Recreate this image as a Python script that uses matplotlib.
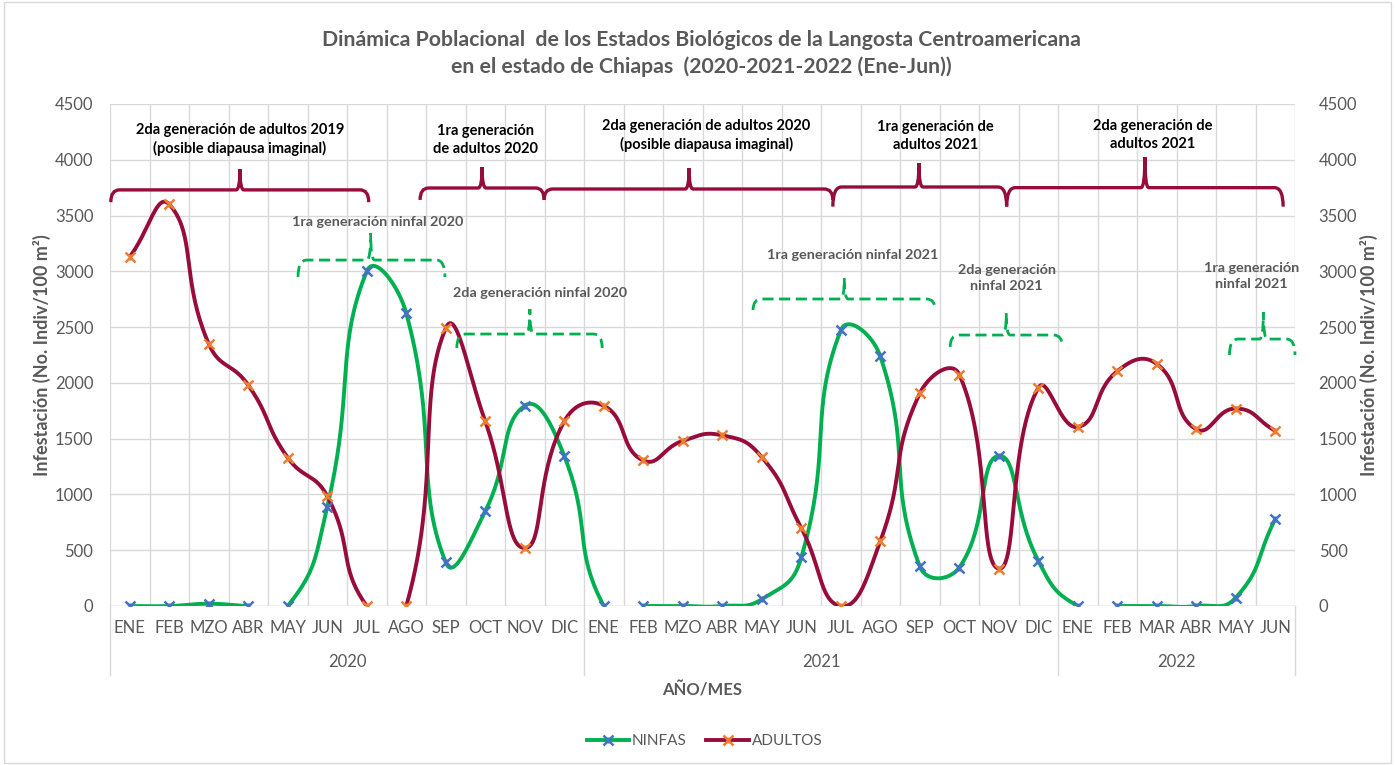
import matplotlib.pyplot as plt
import numpy as np
from matplotlib.path import Path
from matplotlib.patches import PathPatch, Rectangle
from matplotlib.lines import Line2D
import matplotlib.transforms as mtransforms

plt.rcParams['font.family'] = ['Lato', 'DejaVu Sans']

# ---- datos ----
meses = ['ENE', 'FEB', 'MZO', 'ABR', 'MAY', 'JUN', 'JUL', 'AGO', 'SEP', 'OCT', 'NOV', 'DIC',
         'ENE', 'FEB', 'MZO', 'ABR', 'MAY', 'JUN', 'JUL', 'AGO', 'SEP', 'OCT', 'NOV', 'DIC',
         'ENE', 'FEB', 'MAR', 'ABR', 'MAY', 'JUN']
anios = ['2020', '2021', '2022']
meses_por_anio = [12, 12, 6]

ninfas = [0, 0, 20, 0, 0, 890, 3000, 2625, 390, 850, 1795, 1345,
          0, 0, 0, 0, 60, 435, 2470, 2240, 355, 345, 1345, 405,
          0, 0, 0, 0, 75, 780]
adultos = [3130, 3600, 2350, 1980, 1330, 985, 0, 0, 2490, 1655, 520, 1655,
           1795, 1305, 1480, 1530, 1335, 700, 0, 580, 1905, 2075, 335, 1955,
           1605, 2105, 2170, 1585, 1770, 1570]
# tramos sin linea (indice del punto donde empieza el tramo)
ninfas_sin_linea = [3, 12, 24]
adultos_sin_linea = [6]

# llaves: texto, x izq, x pico, x der, y, y pico, y extremos, x texto, y texto
llaves_adultos = [
    ('2da generación de adultos 2019\n(posible diapausa imaginal)', -0.48, 2.79, 6.05, 3730, 3915, 3620, 2.79, 4180),
    ('1ra generación\nde adultos 2020', 7.35, 8.92, 10.49, 3747, 3935, 3640, 9.0, 4180),
    ('2da generación de adultos 2020\n(posible diapausa imaginal)', 10.49, 14.16, 17.8, 3738, 3926, 3640, 14.6, 4215),
    ('1ra generación de\nadultos 2021', 17.8, 19.98, 22.2, 3756, 3970, 3580, 20.4, 4215),
    ('2da generación de\nadultos 2021', 22.2, 25.7, 29.2, 3750, 4025, 3580, 25.9, 4225),
]
llaves_ninfas = [
    ('1ra generación ninfal 2020', 4.26, 6.10, 7.98, 3101, 3344, 2950, 6.28, 3442),
    ('2da generación ninfal 2020', 8.28, 10.13, 11.96, 2438, 2662, 2313, 10.4, 2806),
    ('1ra generación ninfal 2021', 15.78, 18.09, 20.39, 2752, 2940, 2653, 18.3, 3146),
    ('2da generación\nninfal 2021', 20.77, 22.19, 23.61, 2429, 2626, 2322, 22.2, 2940),
    ('1ra generación\nninfal 2021', 27.84, 28.70, 29.5, 2393, 2635, 2250, 28.4, 2958),
]

VERDE = '#00B050'
VINO = '#970C3B'
AZUL = '#4472C4'
NARANJA = '#ED7D31'
GRIS = '#595959'


def suavizar(ax, y, ocultos, s=0.5, n=40):
    # curva tipo Excel: bezier con tangentes proporcionales a la longitud (en pixeles)
    pts = ax.transData.transform(np.column_stack([np.arange(len(y)), y]))
    m = len(pts)
    t = np.linspace(0, 1, n)[:, None]
    xs, ys = [], []
    for i in range(m - 1):
        if i in ocultos:
            xs.append([np.nan])
            ys.append([np.nan])
            continue
        p0, p3 = pts[i], pts[i + 1]
        pa, pb = pts[max(i - 1, 0)], pts[min(i + 2, m - 1)]
        d01 = np.hypot(*(p0 - pa))
        d12 = np.hypot(*(p3 - p0))
        d23 = np.hypot(*(pb - p3))
        f1 = s * d12 / (d01 + d12) if d01 + d12 > 0 else 0
        f2 = s * d12 / (d12 + d23) if d12 + d23 > 0 else 0
        p1 = p0 + f1 * (p3 - pa)
        p2 = p3 - f2 * (pb - p0)
        b = (1 - t) ** 3 * p0 + 3 * (1 - t) ** 2 * t * p1 + 3 * (1 - t) * t ** 2 * p2 + t ** 3 * p3
        b = ax.transData.inverted().transform(b)
        xs.append(b[:, 0])
        ys.append(b[:, 1])
    return np.concatenate(xs), np.concatenate(ys)


def llave(ax, x0, xm, x1, y, y_top, y_ext, color, ls, lw):
    r = 0.22
    rp = 0.10
    verts = [(x0, y_ext), (x0, y), (x0 + r, y),
             (xm - rp, y), (xm, y), (xm, y_top),
             (xm, y), (xm + rp, y),
             (x1 - r, y), (x1, y), (x1, y_ext)]
    codes = [Path.MOVETO, Path.CURVE3, Path.CURVE3,
             Path.LINETO, Path.CURVE3, Path.CURVE3,
             Path.CURVE3, Path.CURVE3,
             Path.LINETO, Path.CURVE3, Path.CURVE3]
    ax.add_patch(PathPatch(Path(verts, codes), fill=False, edgecolor=color,
                           linestyle=ls, linewidth=lw, clip_on=False, zorder=4))


fig = plt.figure(figsize=(13.95, 7.65), dpi=100)
fig.patches.append(Rectangle((0.003, 0.003), 0.994, 0.994, transform=fig.transFigure,
                             fill=False, edgecolor='#D9D9D9', linewidth=1))
ax = fig.add_axes([110 / 1395, 1 - 606 / 765, 1185 / 1395, 502 / 765])

x = np.arange(len(meses))
ax.set_xlim(-0.5, len(meses) - 0.5)
ax.set_ylim(0, 4500)
ax.set_yticks(np.arange(0, 4501, 500))
ax.set_xticks(x)
ax.set_xticklabels(meses)
ax.set_xticks(np.arange(-0.5, len(meses), 1), minor=True)
ax.grid(True, which='minor', axis='x', color='#D9D9D9', linewidth=1)
ax.grid(True, which='major', axis='y', color='#D9D9D9', linewidth=1)
ax.set_axisbelow(True)
for s in ax.spines.values():
    s.set_visible(False)
ax.axhline(0, color='#D9D9D9', linewidth=1, zorder=1)
ax.tick_params(axis='x', which='both', length=0, labelsize=12, labelcolor=GRIS, pad=10)
ax.tick_params(axis='y', length=0, labelsize=12, labelcolor=GRIS, pad=12)

# separadores y etiquetas de anio
limites = np.concatenate([[0], np.cumsum(meses_por_anio)]) - 0.5
for b in limites:
    ax.axvline(b, ymin=-0.137, ymax=0, color='#D9D9D9', linewidth=1, clip_on=False)
trans = mtransforms.blended_transform_factory(ax.transData, ax.transAxes)
for i, a in enumerate(anios):
    ax.text((limites[i] + limites[i + 1]) / 2, -0.112, a, transform=trans,
            ha='center', va='center', fontsize=12, color=GRIS)

# series
xn, yn = suavizar(ax, ninfas, ninfas_sin_linea)
xa, ya = suavizar(ax, adultos, adultos_sin_linea)
ax.plot(xn, yn, color=VERDE, linewidth=2.8, zorder=3, solid_capstyle='butt')
ax.plot(xa, ya, color=VINO, linewidth=2.8, zorder=3, solid_capstyle='butt')
ax.plot(x, ninfas, linestyle='none', marker='x', ms=7, mew=1.8, color=AZUL, zorder=5)
ax.plot(x, ninfas, linestyle='none', marker='|', ms=5, mew=1.8, color=AZUL, zorder=5)
ax.plot(x, adultos, linestyle='none', marker='x', ms=7, mew=1.8, color=NARANJA, zorder=5)
ax.plot(x, adultos, linestyle='none', marker='|', ms=5, mew=1.8, color=NARANJA, zorder=5)

# eje derecho
ax2 = ax.twinx()
ax2.set_ylim(0, 4500)
ax2.set_yticks(np.arange(0, 4501, 500))
for s in ax2.spines.values():
    s.set_visible(False)
ax2.tick_params(axis='y', length=0, labelsize=12, labelcolor=GRIS, pad=17)

# llaves
for txt, x0, xm, x1, y, yt, ye, tx, ty in llaves_adultos:
    llave(ax, x0, xm, x1, y, yt, ye, VINO, '-', 2.4)
    ax.text(tx, ty, txt, ha='center', va='center', fontsize=10.5, fontweight='bold',
            color='black', linespacing=1.35)
for txt, x0, xm, x1, y, yt, ye, tx, ty in llaves_ninfas:
    llave(ax, x0, xm, x1, y, yt, ye, VERDE, (0, (4, 2)), 2.0)
    ax.text(tx, ty, txt, ha='center', va='center', fontsize=10.4, fontweight='bold',
            color=GRIS, linespacing=1.35)

# textos
fig.text(0.503, 0.930, 'Dinámica Poblacional  de los Estados Biológicos de la Langosta Centroamericana\n'
         'en el estado de Chiapas  (2020-2021-2022 (Ene-Jun))',
         ha='center', va='center', fontsize=15.3, fontweight='bold', color=GRIS, linespacing=1.4)
fig.text(0.030, 0.536, 'Infestación (No. Indiv/100 m²)', rotation=90, ha='center', va='center',
         fontsize=13, fontweight='bold', color=GRIS)
fig.text(0.981, 0.536, 'Infestación (No. Indiv/100 m²)', rotation=90, ha='center', va='center',
         fontsize=13, fontweight='bold', color=GRIS)
fig.text(0.503, 0.098, 'AÑO/MES', ha='center', va='center', fontsize=12,
         fontweight='bold', color=GRIS)

# leyenda
h_n = (Line2D([], [], color=VERDE, lw=2.8, marker='x', ms=7, mew=1.8, mec=AZUL),
       Line2D([], [], linestyle='none', marker='|', ms=5, mew=1.8, mec=AZUL))
h_a = (Line2D([], [], color=VINO, lw=2.8, marker='x', ms=7, mew=1.8, mec=NARANJA),
       Line2D([], [], linestyle='none', marker='|', ms=5, mew=1.8, mec=NARANJA))
leg = fig.legend([h_n, h_a], ['NINFAS', 'ADULTOS'], loc='center', bbox_to_anchor=(0.505, 0.031),
                 ncol=2, frameon=False, fontsize=11, handlelength=2.8, handletextpad=0.15,
                 columnspacing=1.3)
for t in leg.get_texts():
    t.set_color(GRIS)

fig.savefig('out.png', dpi=100)
